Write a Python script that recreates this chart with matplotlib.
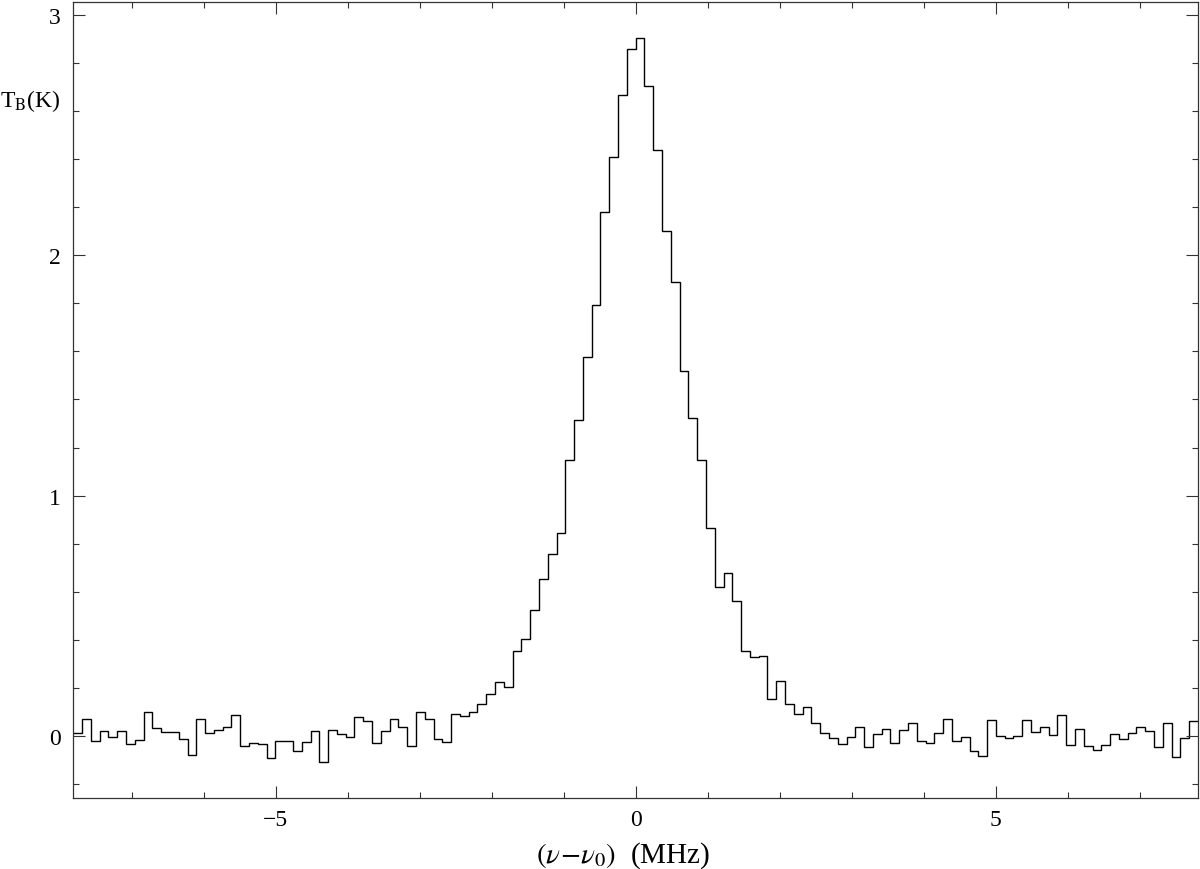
import numpy as np
import matplotlib
matplotlib.use("Agg")
from matplotlib import pyplot as plt
from matplotlib.ticker import MultipleLocator

# spectrum: 128 channels, 0.122 MHz wide, starting at -7.808 MHz
nu_start = -7.808
chan_width = 0.122
tb = [
    0.010, 0.069, -0.022, 0.021, -0.007, 0.018, -0.033, -0.019,
    0.097, 0.031, 0.017, 0.017, -0.015, -0.080, 0.068, 0.011,
    0.026, 0.035, 0.086, -0.044, -0.029, -0.035, -0.093, -0.022,
    -0.021, -0.065, -0.026, 0.020, -0.109, 0.026, 0.007, -0.007,
    0.079, 0.060, -0.029, 0.021, 0.068, 0.035, -0.042, 0.100,
    0.068, -0.014, -0.025, 0.089, 0.082, 0.097, 0.131, 0.175,
    0.225, 0.205, 0.355, 0.405, 0.525, 0.651, 0.758, 0.844,
    1.147, 1.314, 1.575, 1.793, 2.181, 2.408, 2.669, 2.858,
    2.906, 2.706, 2.440, 2.100, 1.888, 1.517, 1.321, 1.148,
    0.863, 0.618, 0.678, 0.563, 0.354, 0.326, 0.334, 0.153,
    0.229, 0.132, 0.090, 0.120, 0.052, 0.010, -0.010, -0.036,
    -0.004, 0.035, -0.048, 0.006, 0.027, -0.028, 0.023, 0.053,
    -0.023, -0.028, 0.011, 0.068, -0.023, -0.004, -0.065, -0.084,
    0.067, -0.001, -0.008, 0.000, 0.067, 0.014, 0.036, 0.004,
    0.085, -0.040, 0.027, -0.041, -0.060, -0.040, 0.007, -0.014,
    0.010, 0.038, 0.018, -0.048, 0.053, -0.090, -0.008, 0.060,
]
x_ticks = [-5, 0, 5]
y_ticks = [0, 1, 2, 3]

plt.rcParams['mathtext.fontset'] = 'stix'
plt.rcParams['font.family'] = ['Liberation Serif', 'DejaVu Serif']

edges = nu_start + chan_width * np.arange(len(tb) + 1)

fig = plt.figure(figsize=(12, 8.7), dpi=100)
ax = fig.add_axes([0.0611, 0.0816, 0.9372, 0.9153])
ax.stairs(tb, edges, baseline=None, color='black', lw=1.0)

ax.set_xlim(edges[0], edges[-1])
ax.set_ylim(-0.259, 3.056)
ax.set_xticks(x_ticks)
ax.set_xticklabels(['\u22125', '0', '5'])
ax.set_yticks(y_ticks)
ax.xaxis.set_minor_locator(MultipleLocator(1))
ax.yaxis.set_minor_locator(MultipleLocator(0.2))
ax.tick_params(which='both', direction='in', top=True, right=True,
               width=0.8, colors='#333333', labelcolor='black')
ax.tick_params(which='major', length=8.5, labelsize=17)
ax.tick_params(axis='x', which='major', pad=8)
ax.tick_params(axis='y', which='major', pad=9)
ax.tick_params(which='minor', length=4.3)
for s in ax.spines.values():
    s.set_linewidth(0.9)
    s.set_color('#333333')

ax.set_xlabel(r'$(\nu\!-\!\nu_0)$  (MHz)', fontsize=21)
ax.xaxis.set_label_coords(0.489, -0.052)
ax.text(-0.011, 0.876, r'T$_\mathrm{B}$(K)', transform=ax.transAxes,
        ha='right', va='center', fontsize=17)

fig.savefig('out.png', dpi=100)
